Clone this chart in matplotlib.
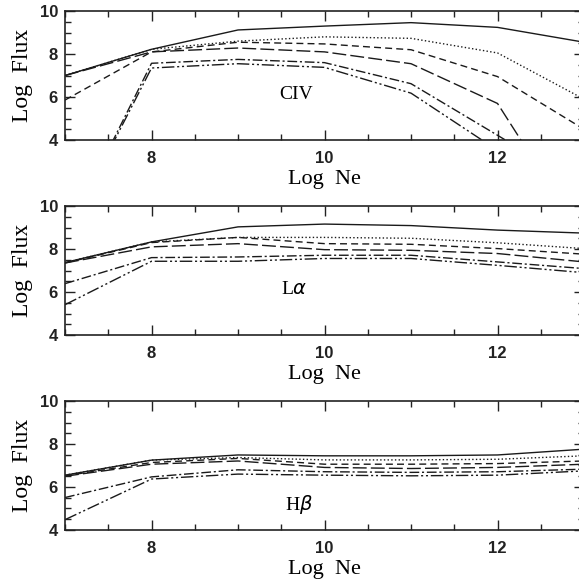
import matplotlib.pyplot as plt
from matplotlib.ticker import MultipleLocator

log_ne = [7, 8, 9, 10, 11, 12, 13]

# one row per model curve (solid, dotted, dashed, long dash, dash-dot, dash-dot-dot)
civ_flux = [
    [7.0, 8.22, 9.12, 9.30, 9.46, 9.24, 8.55],
    [7.0, 8.22, 8.60, 8.80, 8.73, 8.05, 5.90],
    [5.86, 8.10, 8.55, 8.47, 8.20, 6.95, 4.50],
    [7.0, 8.10, 8.28, 8.10, 7.55, 5.70, -0.60],
    [-0.5, 7.57, 7.75, 7.60, 6.62, 4.22, 1.80],
    [-0.5, 7.35, 7.55, 7.38, 6.18, 3.52, 1.00],
]
lya_flux = [
    [7.37, 8.33, 9.03, 9.16, 9.09, 8.88, 8.74],
    [7.37, 8.33, 8.54, 8.54, 8.50, 8.29, 8.02],
    [7.35, 8.30, 8.54, 8.25, 8.22, 8.02, 7.76],
    [7.35, 8.10, 8.25, 7.97, 7.94, 7.79, 7.40],
    [6.39, 7.60, 7.63, 7.71, 7.71, 7.40, 7.09],
    [5.41, 7.43, 7.43, 7.56, 7.56, 7.24, 6.90],
]
hb_flux = [
    [6.55, 7.25, 7.49, 7.45, 7.45, 7.49, 7.76],
    [6.55, 7.25, 7.37, 7.26, 7.26, 7.29, 7.45],
    [6.52, 7.14, 7.33, 7.06, 7.06, 7.09, 7.21],
    [6.50, 7.06, 7.21, 6.91, 6.86, 6.91, 7.06],
    [5.51, 6.47, 6.80, 6.71, 6.68, 6.71, 6.83],
    [4.48, 6.37, 6.60, 6.55, 6.52, 6.55, 6.75],
]
line_labels = ['CIV', r'L$\alpha$', r'H$\beta$']
label_pos = [(9.67, 6.1), (9.65, 6.1), (9.7, 5.2)]

styles = ['-', ':', (0, (5, 3)), (0, (10, 3)), (0, (7, 2, 1.5, 2)),
          (0, (9, 2, 1.5, 2, 1.5, 2))]

fig = plt.figure(figsize=(5.79, 5.81), dpi=100)
bottoms = [0.759, 0.4234, 0.0878]
panels = [civ_flux, lya_flux, hb_flux]

for data, bot, lab, pos in zip(panels, bottoms, line_labels, label_pos):
    ax = fig.add_axes([0.1123, bot, 0.8964, 0.222])
    for ys, ls in zip(data, styles):
        ax.plot(log_ne, ys, color='#1a1a1a', linestyle=ls, linewidth=1.0)
    ax.set_xlim(7, 13)
    ax.set_ylim(4, 10)
    ax.xaxis.set_major_locator(MultipleLocator(2))
    ax.xaxis.set_minor_locator(MultipleLocator(0.5))
    ax.yaxis.set_major_locator(MultipleLocator(2))
    ax.yaxis.set_minor_locator(MultipleLocator(0.5))
    ax.tick_params(which='both', direction='in', top=True, right=True,
                   width=1.0, color='#222222')
    ax.tick_params(which='major', length=7, labelsize=12)
    ax.tick_params(axis='x', which='major', pad=8)
    ax.tick_params(axis='y', which='major', pad=5)
    ax.tick_params(which='minor', length=4.5)
    for lbl in ax.get_xticklabels() + ax.get_yticklabels():
        lbl.set_family('Liberation Sans')
        lbl.set_fontweight('bold')
        lbl.set_color('#222222')
    for sp in ax.spines.values():
        sp.set_linewidth(1.2)
        sp.set_color('#222222')
    ax.set_xlabel('Log  Ne', fontsize=16, family='Liberation Serif', labelpad=3)
    ax.set_ylabel('Log  Flux', fontsize=17, family='Liberation Serif', labelpad=5)
    ax.text(pos[0], pos[1], lab, fontsize=14, family='Liberation Serif',
            ha='center', va='center')

fig.savefig('out.png', dpi=100)
